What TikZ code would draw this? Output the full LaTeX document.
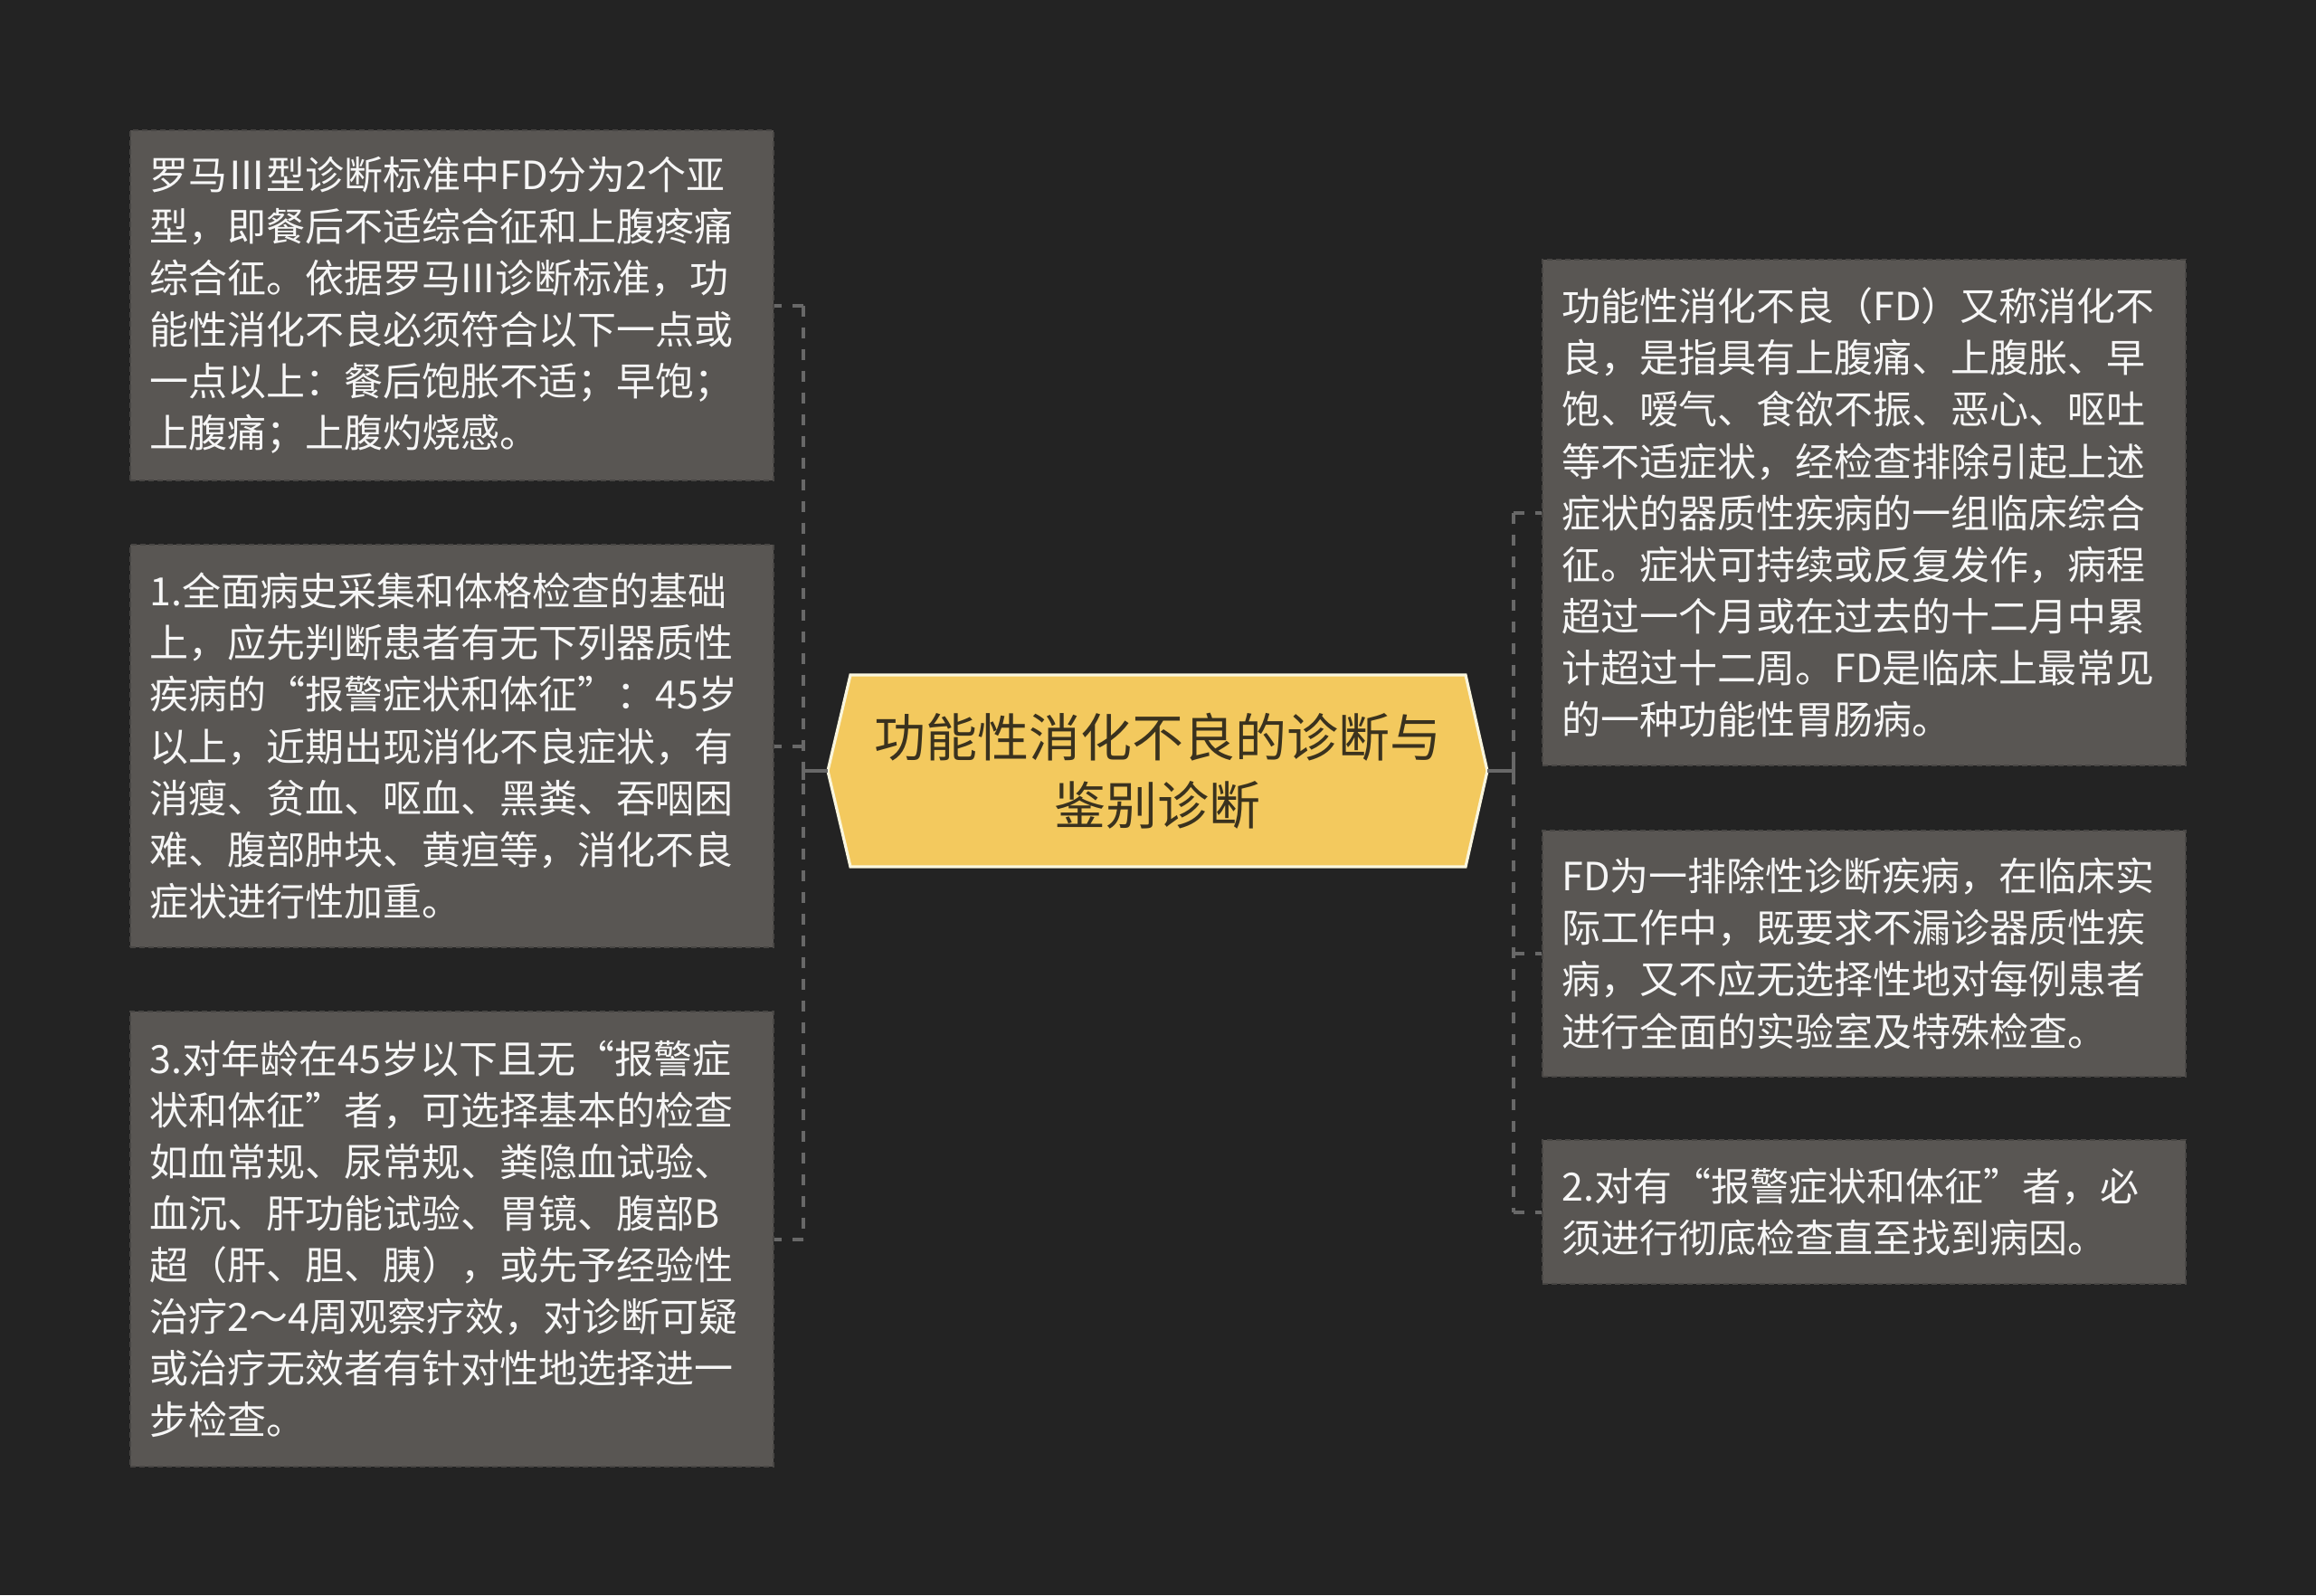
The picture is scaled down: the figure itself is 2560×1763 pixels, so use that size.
\documentclass[tikz,border=0pt]{standalone}
\usepackage{fontspec}
\setmainfont{Noto Sans CJK SC}
\usetikzlibrary{calc}
\definecolor{bgcol}{RGB}{35,35,35}
\definecolor{boxfill}{RGB}{89,86,83}
\definecolor{boxedge}{RGB}{72,70,68}
\definecolor{boxtext}{RGB}{246,246,246}
\definecolor{hexfill}{RGB}{243,201,94}
\definecolor{hexedge}{RGB}{250,246,222}
\definecolor{hextext}{RGB}{58,50,30}
\definecolor{linkcol}{RGB}{104,104,104}
\tikzset{
  leaf/.style={rectangle, fill=boxfill, draw=boxedge, dash pattern=on 3pt off 2pt, line width=0.8pt,
    text width=334pt, inner xsep=10.75pt, inner ysep=0pt, align=left, text=boxtext,
    font=\fontsize{21.5pt}{28.55pt}\selectfont},
  hubtext/.style={rectangle, minimum width=364.5pt, minimum height=106.5pt, inner sep=0pt,
    align=center, text=hextext, font=\fontsize{28.5pt}{37.5pt}\selectfont},
  hexshape/.style={fill=hexfill, draw=hexedge, line width=1.6pt, line join=miter},
  link/.style={draw=linkcol, line width=2pt},
  bus/.style={draw=linkcol, line width=2pt, dash pattern=on 6pt off 6pt}
}
\begin{document}
\begin{tikzpicture}[x=0.5pt,y=-0.5pt]
\useasboundingbox (0,0) rectangle (2560,1763);
\fill[bgcol] (0,0) rectangle (2560,1763);

% central hexagon
\draw[hexshape] (915,852) -- (940,746) -- (1620,746) -- (1644,852) -- (1620,958) -- (940,958) -- cycle;
\node[hubtext] (hub) at (1279.5,852) {功能性消化不良的诊断与\\鉴别诊断};

% left boxes
\node[leaf, minimum height=193.5pt] (l1) at (499.5,337.5) {罗马Ⅲ型诊断标准中FD分为2个亚\\型，即餐后不适综合征和上腹疼痛\\综合征。依据罗马III诊断标准，功\\能性消化不良必须符合以下一点或\\一点以上：餐后饱胀不适；早饱；\\上腹痛；上腹灼烧感。};
\node[leaf, minimum height=222.5pt] (l2) at (499.5,824.5) {1.全面病史采集和体格检查的基础\\上，应先判断患者有无下列器质性\\疾病的“报警症状和体征”：45岁\\以上，近期出现消化不良症状，有\\消瘦、贫血、呕血、黑粪、吞咽困\\难、腹部肿块、黄疸等，消化不良\\症状进行性加重。};
\node[leaf, minimum height=251.5pt] (l3) at (499.5,1369.5) {3.对年龄在45岁以下且无“报警症\\状和体征”者，可选择基本的检查\\如血常规、尿常规、粪隐血试验、\\血沉、肝功能试验、胃镜、腹部B\\超（肝、胆、胰），或先予经验性\\治疗2～4周观察疗效，对诊断可疑\\或治疗无效者有针对性地选择进一\\步检查。};

% right boxes
\node[leaf, minimum height=279.5pt] (r1) at (2060.5,566.5) {功能性消化不良（FD）又称消化不\\良，是指具有上腹痛、上腹胀、早\\饱、嗳气、食欲不振、恶心、呕吐\\等不适症状，经检查排除引起上述\\症状的器质性疾病的一组临床综合\\征。症状可持续或反复发作，病程\\超过一个月或在过去的十二月中累\\计超过十二周。FD是临床上最常见\\的一种功能性胃肠病。};
\node[leaf, minimum height=136pt] (r2) at (2060.5,1054) {FD为一排除性诊断疾病，在临床实\\际工作中，既要求不漏诊器质性疾\\病，又不应无选择性地对每例患者\\进行全面的实验室及特殊检查。};
\node[leaf, minimum height=79.5pt] (r3) at (2060.5,1339.5) {2.对有“报警症状和体征”者，必\\须进行彻底检查直至找到病因。};

% connectors, left
\coordinate (lbus) at (888,852);
\draw[link] (hub.west) -- (lbus);
\draw[link] ($(lbus)+(0,-10)$) -- ($(lbus)+(0,10)$);
\draw[bus] (lbus |- l1.east) -- (lbus |- l3.east);
\foreach \n in {l1,l2,l3} \draw[bus] (lbus |- \n.east) -- (\n.east);

% connectors, right
\coordinate (rbus) at (1673,852);
\draw[link] (hub.east) -- (rbus);
\draw[link] ($(rbus)+(0,-10)$) -- ($(rbus)+(0,10)$);
\draw[bus] (rbus |- r1.west) -- (rbus |- r3.west);
\foreach \n in {r1,r2,r3} \draw[bus] (rbus |- \n.west) -- (\n.west);
\end{tikzpicture}
\end{document}
